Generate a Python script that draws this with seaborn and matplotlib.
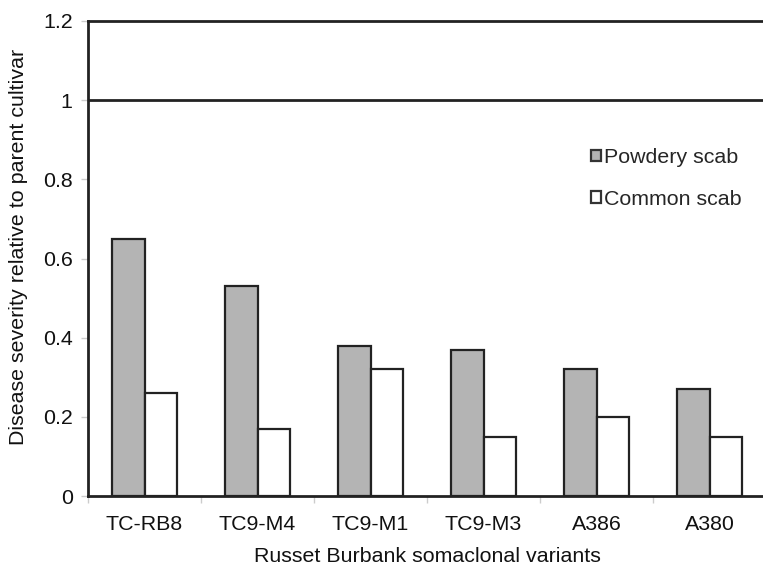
import matplotlib
matplotlib.use("Agg")
import matplotlib.pyplot as plt
import seaborn as sns
import pandas as pd
import numpy as np
from matplotlib.ticker import FixedLocator

categories = ["TC-RB8", "TC9-M4", "TC9-M1", "TC9-M3", "A386", "A380"]
powdery_scab = [0.65, 0.53, 0.38, 0.37, 0.32, 0.27]
common_scab = [0.26, 0.17, 0.32, 0.15, 0.20, 0.15]
series_names = ["Powdery scab", "Common scab"]
y_ticks = [0, 0.2, 0.4, 0.6, 0.8, 1, 1.2]
y_tick_labels = ["0", "0.2", "0.4", "0.6", "0.8", "1", "1.2"]

df = pd.DataFrame({
    "variant": categories * 2,
    "value": powdery_scab + common_scab,
    "series": [series_names[0]] * len(categories) + [series_names[1]] * len(categories),
})

sns.set_style("white")
plt.rcParams["font.family"] = ["Liberation Sans", "DejaVu Sans"]

FS = 15.4
fig = plt.figure(figsize=(7.63, 5.67), dpi=100)
ax = fig.add_axes([88 / 763, 1 - 496 / 567, 678 / 763, 475 / 567])

sns.barplot(data=df, x="variant", y="value", hue="series", order=categories,
            hue_order=series_names, palette=["#b4b4b4", "#ffffff"],
            width=0.58, gap=0, edgecolor="#222222", linewidth=1.6,
            saturation=1, ax=ax, errorbar=None)

ax.axhline(1.0, color="#222222", linewidth=2.0, zorder=3)
ax.set_ylim(0, 1.2)
ax.set_xlim(-0.5, 5.5)
ax.set_yticks(y_ticks)
ax.set_yticklabels(y_tick_labels)

for s in ["left", "bottom", "top", "right"]:
    ax.spines[s].set_color("#222222")
    ax.spines[s].set_linewidth(2.0)

ax.tick_params(axis="y", which="major", length=5, width=1, color="#cccccc",
               labelsize=FS, pad=6, left=True, labelcolor="#111111")
ax.tick_params(axis="x", which="major", length=0, labelsize=FS, pad=14,
               labelcolor="#111111")
ax.xaxis.set_minor_locator(FixedLocator([i - 0.5 for i in range(len(categories) + 1)]))
ax.tick_params(axis="x", which="minor", length=5, width=1, color="#cccccc", bottom=True)

ax.set_xlabel("Russet Burbank somaclonal variants", fontsize=FS, labelpad=9,
              color="#111111")
ax.set_ylabel("Disease severity relative to parent cultivar", fontsize=FS,
              labelpad=10, color="#111111")
ax.yaxis.set_label_coords(-0.088, 0.525)

leg = ax.legend(loc="upper left", bbox_to_anchor=(0.726, 0.755), frameon=False,
                fontsize=FS, handlelength=0.45, handleheight=0.45,
                handletextpad=0.15, labelspacing=1.05, borderpad=0)
for h in leg.legend_handles:
    h.set_edgecolor("#333333")
    h.set_linewidth(1.6)

fig.savefig("out.png", dpi=100)
